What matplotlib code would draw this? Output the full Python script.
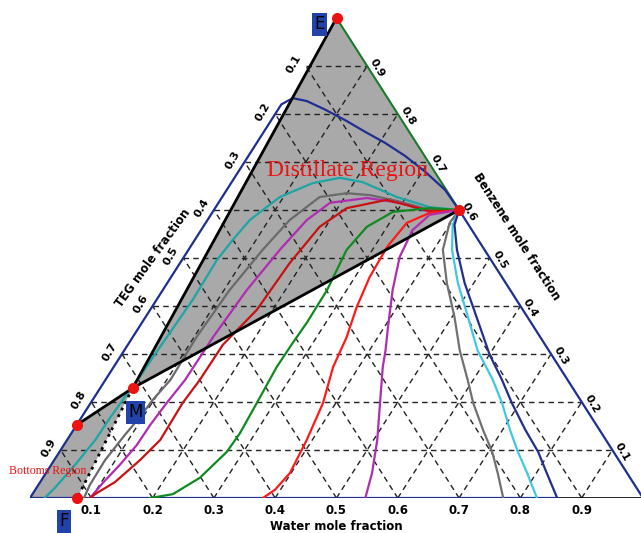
import matplotlib
matplotlib.use("Agg")
import matplotlib.pyplot as plt

# ternary data: water and benzene mole fractions (TEG = 1 - water - benzene)
ticks = [0.1, 0.2, 0.3, 0.4, 0.5, 0.6, 0.7, 0.8, 0.9]
tick_labels = ["0.1", "0.2", "0.3", "0.4", "0.5", "0.6", "0.7", "0.8", "0.9"]

# key compositions (water, benzene)
pt_E = (0.0, 1.0)
pt_az = (0.40, 0.60)
pt_M = (0.053, 0.229)
pt_F = (0.077, 0.0)
pt_L1 = (0.0, 0.152)
pt_teg = (0.0, 0.0)

# residue curves, left family (azeotrope -> TEG rich corner)
blue_top_w = [0.0, 0.0, 0.012, 0.038, 0.075, 0.119, 0.165, 0.209, 0.255, 0.303, 0.356, 0.40]
blue_top_b = [0.0, 0.82, 0.833, 0.827, 0.81, 0.788, 0.763, 0.74, 0.713, 0.681, 0.642, 0.60]

teal_w = [0.40, 0.349, 0.285, 0.214, 0.172, 0.133, 0.094, 0.069, 0.062, 0.057, 0.059, 0.056,
          0.054, 0.053, 0.050, 0.047, 0.046, 0.039, 0.030, 0.024]
teal_b = [0.60, 0.606, 0.627, 0.658, 0.667, 0.656, 0.627, 0.579, 0.538, 0.496, 0.413, 0.344,
          0.294, 0.252, 0.219, 0.167, 0.121, 0.069, 0.021, 0.0]

grey_l_w = [0.40, 0.352, 0.289, 0.239, 0.199, 0.159, 0.134, 0.121, 0.109, 0.104, 0.106,
            0.098, 0.095, 0.089, 0.083, 0.084, 0.088]
grey_l_b = [0.60, 0.60, 0.619, 0.631, 0.635, 0.627, 0.579, 0.517, 0.433, 0.335, 0.246,
            0.204, 0.169, 0.131, 0.079, 0.027, 0.0]

mag_l_w = [0.40, 0.354, 0.296, 0.237, 0.182, 0.162, 0.149, 0.137, 0.131, 0.130, 0.124,
           0.120, 0.119, 0.112, 0.103, 0.098]
mag_l_b = [0.60, 0.596, 0.615, 0.625, 0.615, 0.579, 0.517, 0.433, 0.335, 0.246, 0.198,
           0.152, 0.110, 0.069, 0.031, 0.0]

red_l_w = [0.40, 0.353, 0.271, 0.215, 0.190, 0.179, 0.174, 0.155, 0.154, 0.150, 0.152,
           0.140, 0.122, 0.102, 0.098]
red_l_b = [0.60, 0.598, 0.621, 0.604, 0.565, 0.490, 0.392, 0.319, 0.246, 0.198, 0.121,
           0.079, 0.033, 0.008, 0.0]

green_w = [0.40, 0.350, 0.294, 0.267, 0.258, 0.268, 0.269, 0.267, 0.266, 0.271, 0.275,
           0.273, 0.256, 0.229, 0.196]
green_b = [0.60, 0.604, 0.596, 0.565, 0.517, 0.433, 0.365, 0.323, 0.273, 0.198, 0.135,
           0.096, 0.042, 0.008, 0.0]

red_m_w = [0.40, 0.355, 0.328, 0.321, 0.324, 0.334, 0.349, 0.358, 0.379, 0.391, 0.398,
           0.391, 0.380]
red_m_b = [0.60, 0.594, 0.573, 0.523, 0.460, 0.398, 0.335, 0.273, 0.198, 0.121, 0.052,
           0.017, 0.0]

mag_m_w = [0.40, 0.357, 0.345, 0.352, 0.375, 0.406, 0.426, 0.439, 0.472, 0.506, 0.532, 0.547]
mag_m_b = [0.60, 0.590, 0.558, 0.502, 0.433, 0.356, 0.308, 0.273, 0.198, 0.121, 0.052, 0.0]

# right family (azeotrope -> water side)
grey_r_w = [0.40, 0.398, 0.415, 0.456, 0.504, 0.547, 0.591, 0.624, 0.668, 0.706, 0.737, 0.772]
grey_r_b = [0.60, 0.573, 0.517, 0.448, 0.377, 0.308, 0.246, 0.198, 0.142, 0.096, 0.052, 0.0]

cyan_r_w = [0.40, 0.405, 0.430, 0.474, 0.526, 0.576, 0.632, 0.671, 0.712, 0.748, 0.785, 0.827]
cyan_r_b = [0.60, 0.569, 0.517, 0.448, 0.377, 0.308, 0.246, 0.198, 0.142, 0.096, 0.052, 0.0]

blue_r_w = [0.40, 0.408, 0.438, 0.485, 0.540, 0.601, 0.647, 0.687, 0.737, 0.781, 0.817, 0.860]
blue_r_b = [0.60, 0.569, 0.517, 0.448, 0.377, 0.298, 0.246, 0.198, 0.142, 0.096, 0.052, 0.0]

navy = "#1f2f8f"


def tern(w, b):
    # water, benzene -> cartesian on the triangle
    if isinstance(w, (list, tuple)):
        return [wi + bi / 2 for wi, bi in zip(w, b)], list(b)
    return w + b / 2, b


fig = plt.figure(figsize=(6.41, 5.33), dpi=100)
ax = fig.add_axes([30 / 641, 35 / 533, 613 / 641, 480 / 533])
ax.set_xlim(0, 1)
ax.set_ylim(0, 1)
ax.set_axis_off()

# shaded regions
dist = [tern(*p) for p in [pt_E, pt_az, pt_M]]
ax.fill([p[0] for p in dist], [p[1] for p in dist], color="#a9a9a9", zorder=1, lw=0)
bott = [tern(*p) for p in [pt_M, pt_L1, pt_teg, pt_F]]
ax.fill([p[0] for p in bott], [p[1] for p in bott], color="#a9a9a9", zorder=1, lw=0)

# dashed grid
for v in ticks:
    for a, b in [((0, v), (1 - v, v)), ((v, 0), (v, 1 - v)), ((1 - v, 0), (0, 1 - v))]:
        x, y = tern([a[0], b[0]], [a[1], b[1]])
        ax.plot(x, y, color="#222222", lw=1, ls=(0, (4, 3)), zorder=2)

# triangle edges
x, y = tern([0.0, 1.0], [0.0, 0.0])
ax.plot(x, y, color="black", lw=1.2, zorder=3)
x, y = tern([0.0, 0.86], [0.0, 0.0])
ax.plot(x, y, color=navy, lw=1.6, zorder=3)
x, y = tern([pt_E[0], pt_az[0]], [pt_E[1], pt_az[1]])
ax.plot(x, y, color="#1a7a2a", lw=1.5, zorder=3)
x, y = tern([pt_az[0], 1.0], [pt_az[1], 0.0])
ax.plot(x, y, color=navy, lw=1.6, zorder=3)

# residue curves
curves = [
    (blue_top_w, blue_top_b, navy),
    (teal_w, teal_b, "#1ea5a5"),
    (grey_l_w, grey_l_b, "#6a6a6a"),
    (mag_l_w, mag_l_b, "#b02cb0"),
    (red_l_w, red_l_b, "#c81212"),
    (green_w, green_b, "#108a20"),
    (red_m_w, red_m_b, "#ff1a1a"),
    (mag_m_w, mag_m_b, "#b02cb0"),
    (grey_r_w, grey_r_b, "#707070"),
    (cyan_r_w, cyan_r_b, "#40c8e0"),
    (blue_r_w, blue_r_b, navy),
]
for w, b, c in curves:
    x, y = tern(w, b)
    ax.plot(x, y, color=c, lw=1.6, zorder=4)

# mass balance lines
for p, q, ls in [(pt_E, pt_M, "-"), (pt_M, pt_az, "-"), (pt_L1, pt_M, "-"), (pt_M, pt_F, ":")]:
    x, y = tern([p[0], q[0]], [p[1], q[1]])
    ax.plot(x, y, color="black", lw=2, ls=ls, zorder=5)

# red points
for p in [pt_E, pt_az, pt_M, pt_F, pt_L1]:
    x, y = tern(*p)
    ax.plot(x, y, "o", color="#ee1111", ms=7, zorder=6, clip_on=False)

# point labels in boxes
for p, s, off in [(pt_E, "E", (-17, -6)), (pt_M, "M", (3, -24)), (pt_F, "F", (-13, -23))]:
    ax.annotate(s, tern(*p), xytext=off, textcoords="offset pixels", ha="center", va="center",
                fontsize=12, color="black", zorder=7, annotation_clip=False,
                bbox=dict(boxstyle="square,pad=0.15", fc="#2244aa", ec="none"))

# tick labels
for v, s in zip(ticks, tick_labels):
    ax.annotate(s, tern(v, 0.0), xytext=(0, -13), textcoords="offset pixels", ha="center",
                va="center", fontsize=8.5, fontweight="bold", annotation_clip=False)
    ax.annotate(s, tern(0.0, 1 - v), xytext=(-12, 2), textcoords="offset pixels", ha="center",
                va="center", fontsize=8, fontweight="bold", rotation=60, annotation_clip=False)
    ax.annotate(s, tern(1 - v, v), xytext=(10, -2), textcoords="offset pixels", ha="center",
                va="center", fontsize=8, fontweight="bold", rotation=-60, annotation_clip=False)

# axis titles
ax.annotate("Water mole fraction", tern(0.5, 0.0), xytext=(0, -29), textcoords="offset pixels",
            ha="center", va="center", fontsize=8.5, fontweight="bold", annotation_clip=False)
ax.annotate("TEG mole fraction", tern(0.0, 0.5), xytext=(-30, 0), textcoords="offset pixels",
            ha="center", va="center", fontsize=8.5, fontweight="bold", rotation=54,
            annotation_clip=False)
ax.annotate("Benzene mole fraction", tern(0.5, 0.5), xytext=(27, 21), textcoords="offset pixels",
            ha="center", va="center", fontsize=8.5, fontweight="bold", rotation=-57,
            annotation_clip=False)

# region labels
ax.annotate("Distillate Region", tern(0.177, 0.683), ha="center", va="center", fontsize=17,
            color="#ee1111", family="Liberation Serif", zorder=7)
ax.annotate("Bottoms Region", tern(0.0, 0.056), xytext=(1, 0), textcoords="offset pixels",
            ha="center", va="center", fontsize=8.5, color="#ee1111", family="Liberation Serif",
            zorder=7, annotation_clip=False)

fig.savefig("out.png", dpi=100)
